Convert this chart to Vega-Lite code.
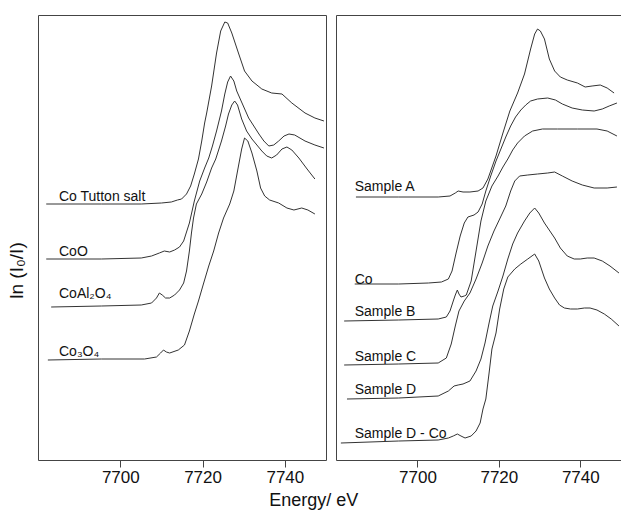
{
  "$schema": "https://vega.github.io/schema/vega-lite/v6.json",
  "padding": {"left": 6, "top": 14, "right": 0, "bottom": 5},
  "background": "white",
  "title": {"text": "Energy/ eV", "orient": "bottom", "anchor": "middle", "fontSize": 18, "font": "Liberation Sans", "fontWeight": "normal", "color": "#111", "offset": 6},
  "config": {
    "font": "Liberation Sans",
    "axis": {"grid": false, "labelFont": "Liberation Sans", "labelFontSize": 17, "labelColor": "#111", "tickColor": "#444", "domainColor": "#444", "titleFont": "Liberation Sans", "titleColor": "#111", "titleFontWeight": "normal"}
  },
  "datasets": {
    "left": [
      {"s":"T","e":7682.0,"v":256},{"s":"T","e":7695.4,"v":256},{"s":"T","e":7705.1,"v":256},{"s":"T","e":7710.0,"v":257},{"s":"T","e":7712.4,"v":258},{"s":"T","e":7713.9,"v":260},{"s":"T","e":7714.9,"v":261},{"s":"T","e":7716.1,"v":266},{"s":"T","e":7717.1,"v":274},{"s":"T","e":7718.0,"v":286},{"s":"T","e":7719.0,"v":301},{"s":"T","e":7719.8,"v":319},{"s":"T","e":7720.5,"v":337},{"s":"T","e":7721.0,"v":347},{"s":"T","e":7722.2,"v":374},{"s":"T","e":7723.4,"v":407},{"s":"T","e":7724.4,"v":429},{"s":"T","e":7725.4,"v":438},{"s":"T","e":7726.1,"v":437},{"s":"T","e":7727.1,"v":427},{"s":"T","e":7728.8,"v":406},{"s":"T","e":7730.2,"v":389},{"s":"T","e":7732.0,"v":379},{"s":"T","e":7734.4,"v":371},{"s":"T","e":7736.8,"v":367},{"s":"T","e":7739.3,"v":366},{"s":"T","e":7741.7,"v":357},{"s":"T","e":7744.9,"v":347},{"s":"T","e":7747.3,"v":342},{"s":"T","e":7749.5,"v":339},
      {"s":"CoO","e":7682.0,"v":201},{"s":"CoO","e":7695.4,"v":201},{"s":"CoO","e":7705.1,"v":202},{"s":"CoO","e":7707.6,"v":204},{"s":"CoO","e":7709.5,"v":207},{"s":"CoO","e":7710.7,"v":209},{"s":"CoO","e":7712.0,"v":208},{"s":"CoO","e":7713.2,"v":210},{"s":"CoO","e":7714.4,"v":213},{"s":"CoO","e":7715.4,"v":219},{"s":"CoO","e":7716.1,"v":228},{"s":"CoO","e":7716.8,"v":237},{"s":"CoO","e":7718.0,"v":259},{"s":"CoO","e":7719.3,"v":279},{"s":"CoO","e":7720.5,"v":292},{"s":"CoO","e":7721.5,"v":302},{"s":"CoO","e":7722.4,"v":314},{"s":"CoO","e":7723.4,"v":329},{"s":"CoO","e":7724.6,"v":349},{"s":"CoO","e":7725.4,"v":366},{"s":"CoO","e":7726.1,"v":378},{"s":"CoO","e":7726.8,"v":384},{"s":"CoO","e":7727.6,"v":379},{"s":"CoO","e":7728.3,"v":369},{"s":"CoO","e":7729.8,"v":355},{"s":"CoO","e":7731.2,"v":342},{"s":"CoO","e":7733.7,"v":326},{"s":"CoO","e":7734.9,"v":319},{"s":"CoO","e":7736.1,"v":314},{"s":"CoO","e":7737.3,"v":315},{"s":"CoO","e":7738.5,"v":319},{"s":"CoO","e":7739.8,"v":324},{"s":"CoO","e":7741.0,"v":326},{"s":"CoO","e":7742.4,"v":325},{"s":"CoO","e":7744.9,"v":319},{"s":"CoO","e":7747.3,"v":315},{"s":"CoO","e":7749.5,"v":312},
      {"s":"Al","e":7683.2,"v":153},{"s":"Al","e":7695.4,"v":154},{"s":"Al","e":7705.1,"v":155},{"s":"Al","e":7707.6,"v":157},{"s":"Al","e":7708.8,"v":162},{"s":"Al","e":7709.5,"v":167},{"s":"Al","e":7710.2,"v":165},{"s":"Al","e":7711.0,"v":162},{"s":"Al","e":7712.0,"v":162},{"s":"Al","e":7713.2,"v":165},{"s":"Al","e":7714.4,"v":170},{"s":"Al","e":7715.4,"v":177},{"s":"Al","e":7716.1,"v":189},{"s":"Al","e":7716.8,"v":209},{"s":"Al","e":7717.3,"v":227},{"s":"Al","e":7717.8,"v":242},{"s":"Al","e":7718.5,"v":256},{"s":"Al","e":7719.8,"v":266},{"s":"Al","e":7721.0,"v":278},{"s":"Al","e":7722.2,"v":292},{"s":"Al","e":7723.2,"v":301},{"s":"Al","e":7724.6,"v":319},{"s":"Al","e":7725.6,"v":334},{"s":"Al","e":7726.3,"v":346},{"s":"Al","e":7727.1,"v":355},{"s":"Al","e":7727.8,"v":359},{"s":"Al","e":7728.5,"v":355},{"s":"Al","e":7729.5,"v":341},{"s":"Al","e":7730.7,"v":329},{"s":"Al","e":7732.0,"v":321},{"s":"Al","e":7734.4,"v":309},{"s":"Al","e":7735.6,"v":304},{"s":"Al","e":7736.8,"v":302},{"s":"Al","e":7738.0,"v":305},{"s":"Al","e":7739.3,"v":311},{"s":"Al","e":7740.5,"v":313},{"s":"Al","e":7741.7,"v":310},{"s":"Al","e":7743.4,"v":302},{"s":"Al","e":7745.4,"v":291},{"s":"Al","e":7747.3,"v":281},
      {"s":"Co3","e":7682.4,"v":100},{"s":"Co3","e":7695.4,"v":101},{"s":"Co3","e":7705.9,"v":101},{"s":"Co3","e":7708.8,"v":103},{"s":"Co3","e":7709.8,"v":107},{"s":"Co3","e":7710.5,"v":110},{"s":"Co3","e":7711.2,"v":108},{"s":"Co3","e":7712.0,"v":107},{"s":"Co3","e":7714.1,"v":110},{"s":"Co3","e":7715.6,"v":115},{"s":"Co3","e":7716.8,"v":129},{"s":"Co3","e":7718.0,"v":146},{"s":"Co3","e":7719.0,"v":159},{"s":"Co3","e":7720.2,"v":176},{"s":"Co3","e":7721.5,"v":194},{"s":"Co3","e":7722.7,"v":209},{"s":"Co3","e":7723.9,"v":227},{"s":"Co3","e":7725.1,"v":242},{"s":"Co3","e":7726.6,"v":256},{"s":"Co3","e":7727.6,"v":269},{"s":"Co3","e":7728.5,"v":289},{"s":"Co3","e":7729.5,"v":311},{"s":"Co3","e":7730.2,"v":322},{"s":"Co3","e":7731.0,"v":319},{"s":"Co3","e":7732.0,"v":307},{"s":"Co3","e":7733.2,"v":289},{"s":"Co3","e":7734.1,"v":272},{"s":"Co3","e":7735.1,"v":264},{"s":"Co3","e":7736.3,"v":260},{"s":"Co3","e":7738.5,"v":257},{"s":"Co3","e":7740.5,"v":252},{"s":"Co3","e":7742.2,"v":250},{"s":"Co3","e":7744.1,"v":252},{"s":"Co3","e":7745.6,"v":250},{"s":"Co3","e":7747.3,"v":246}
    ],
    "right": [
      {"s":"A","e":7684.9,"v":263},{"s":"A","e":7695.4,"v":263},{"s":"A","e":7705.1,"v":263},{"s":"A","e":7708.0,"v":264},{"s":"A","e":7709.3,"v":267},{"s":"A","e":7710.0,"v":269},{"s":"A","e":7711.2,"v":268},{"s":"A","e":7712.9,"v":268},{"s":"A","e":7714.9,"v":269},{"s":"A","e":7716.1,"v":272},{"s":"A","e":7717.3,"v":281},{"s":"A","e":7719.3,"v":304},{"s":"A","e":7721.0,"v":327},{"s":"A","e":7722.7,"v":349},{"s":"A","e":7724.6,"v":367},{"s":"A","e":7726.3,"v":386},{"s":"A","e":7727.8,"v":411},{"s":"A","e":7728.8,"v":426},{"s":"A","e":7729.5,"v":431},{"s":"A","e":7730.2,"v":429},{"s":"A","e":7731.2,"v":421},{"s":"A","e":7732.4,"v":401},{"s":"A","e":7733.7,"v":389},{"s":"A","e":7735.1,"v":383},{"s":"A","e":7736.8,"v":380},{"s":"A","e":7739.3,"v":377},{"s":"A","e":7741.2,"v":373},{"s":"A","e":7742.9,"v":374},{"s":"A","e":7744.9,"v":375},{"s":"A","e":7746.6,"v":372},{"s":"A","e":7748.3,"v":367},
      {"s":"Co","e":7684.6,"v":176},{"s":"Co","e":7695.4,"v":176},{"s":"Co","e":7702.7,"v":177},{"s":"Co","e":7705.9,"v":178},{"s":"Co","e":7707.6,"v":181},{"s":"Co","e":7708.5,"v":189},{"s":"Co","e":7709.5,"v":207},{"s":"Co","e":7710.5,"v":224},{"s":"Co","e":7711.5,"v":237},{"s":"Co","e":7712.4,"v":243},{"s":"Co","e":7713.9,"v":245},{"s":"Co","e":7714.9,"v":248},{"s":"Co","e":7715.9,"v":256},{"s":"Co","e":7716.8,"v":269},{"s":"Co","e":7718.0,"v":284},{"s":"Co","e":7719.3,"v":299},{"s":"Co","e":7720.5,"v":311},{"s":"Co","e":7721.7,"v":323},{"s":"Co","e":7722.9,"v":334},{"s":"Co","e":7724.1,"v":343},{"s":"Co","e":7725.4,"v":350},{"s":"Co","e":7726.6,"v":355},{"s":"Co","e":7727.8,"v":359},{"s":"Co","e":7729.5,"v":361},{"s":"Co","e":7732.0,"v":362},{"s":"Co","e":7733.9,"v":360},{"s":"Co","e":7735.6,"v":356},{"s":"Co","e":7738.0,"v":352},{"s":"Co","e":7740.5,"v":350},{"s":"Co","e":7743.4,"v":349},{"s":"Co","e":7745.4,"v":351},{"s":"Co","e":7747.1,"v":354},{"s":"Co","e":7749.0,"v":357},
      {"s":"B","e":7682.0,"v":139},{"s":"B","e":7695.4,"v":140},{"s":"B","e":7705.1,"v":141},{"s":"B","e":7707.1,"v":143},{"s":"B","e":7708.0,"v":149},{"s":"B","e":7708.8,"v":159},{"s":"B","e":7709.3,"v":165},{"s":"B","e":7709.8,"v":170},{"s":"B","e":7710.2,"v":166},{"s":"B","e":7710.7,"v":163},{"s":"B","e":7711.5,"v":164},{"s":"B","e":7712.0,"v":165},{"s":"B","e":7713.2,"v":179},{"s":"B","e":7714.4,"v":209},{"s":"B","e":7715.6,"v":239},{"s":"B","e":7716.8,"v":259},{"s":"B","e":7718.3,"v":274},{"s":"B","e":7719.8,"v":284},{"s":"B","e":7721.0,"v":293},{"s":"B","e":7722.2,"v":301},{"s":"B","e":7723.4,"v":310},{"s":"B","e":7724.6,"v":317},{"s":"B","e":7726.3,"v":324},{"s":"B","e":7728.3,"v":329},{"s":"B","e":7730.7,"v":331},{"s":"B","e":7734.4,"v":331},{"s":"B","e":7739.3,"v":331},{"s":"B","e":7744.1,"v":331},{"s":"B","e":7746.6,"v":329},{"s":"B","e":7749.0,"v":324},
      {"s":"C","e":7682.0,"v":95},{"s":"C","e":7695.4,"v":96},{"s":"C","e":7705.1,"v":97},{"s":"C","e":7707.1,"v":102},{"s":"C","e":7708.3,"v":116},{"s":"C","e":7709.3,"v":134},{"s":"C","e":7710.2,"v":149},{"s":"C","e":7711.5,"v":159},{"s":"C","e":7712.9,"v":167},{"s":"C","e":7714.4,"v":181},{"s":"C","e":7715.9,"v":197},{"s":"C","e":7717.3,"v":214},{"s":"C","e":7718.8,"v":229},{"s":"C","e":7720.2,"v":241},{"s":"C","e":7721.7,"v":254},{"s":"C","e":7722.9,"v":269},{"s":"C","e":7723.9,"v":279},{"s":"C","e":7725.1,"v":284},{"s":"C","e":7727.1,"v":285},{"s":"C","e":7729.5,"v":286},{"s":"C","e":7732.0,"v":287},{"s":"C","e":7733.7,"v":288},{"s":"C","e":7735.6,"v":284},{"s":"C","e":7738.0,"v":279},{"s":"C","e":7740.5,"v":275},{"s":"C","e":7743.4,"v":272},{"s":"C","e":7746.6,"v":272},{"s":"C","e":7749.0,"v":273},
      {"s":"D","e":7682.7,"v":61},{"s":"D","e":7695.4,"v":62},{"s":"D","e":7705.1,"v":64},{"s":"D","e":7707.6,"v":69},{"s":"D","e":7709.0,"v":74},{"s":"D","e":7710.0,"v":75},{"s":"D","e":7711.2,"v":76},{"s":"D","e":7712.9,"v":79},{"s":"D","e":7714.4,"v":89},{"s":"D","e":7715.6,"v":101},{"s":"D","e":7716.6,"v":117},{"s":"D","e":7717.6,"v":137},{"s":"D","e":7718.5,"v":154},{"s":"D","e":7719.8,"v":169},{"s":"D","e":7721.0,"v":184},{"s":"D","e":7722.2,"v":201},{"s":"D","e":7723.4,"v":216},{"s":"D","e":7724.6,"v":227},{"s":"D","e":7726.3,"v":239},{"s":"D","e":7727.6,"v":247},{"s":"D","e":7728.8,"v":252},{"s":"D","e":7729.8,"v":247},{"s":"D","e":7731.2,"v":237},{"s":"D","e":7733.7,"v":222},{"s":"D","e":7735.1,"v":212},{"s":"D","e":7736.8,"v":204},{"s":"D","e":7738.5,"v":201},{"s":"D","e":7740.0,"v":201},{"s":"D","e":7741.7,"v":202},{"s":"D","e":7743.4,"v":202},{"s":"D","e":7745.4,"v":199},{"s":"D","e":7747.3,"v":194},{"s":"D","e":7749.5,"v":187},
      {"s":"DCo","e":7681.2,"v":17},{"s":"DCo","e":7695.4,"v":19},{"s":"DCo","e":7705.1,"v":20},{"s":"DCo","e":7707.6,"v":22},{"s":"DCo","e":7708.8,"v":24},{"s":"DCo","e":7709.8,"v":26},{"s":"DCo","e":7710.7,"v":24},{"s":"DCo","e":7711.7,"v":22},{"s":"DCo","e":7713.2,"v":24},{"s":"DCo","e":7714.4,"v":29},{"s":"DCo","e":7715.4,"v":37},{"s":"DCo","e":7716.1,"v":51},{"s":"DCo","e":7716.8,"v":61},{"s":"DCo","e":7717.6,"v":87},{"s":"DCo","e":7718.3,"v":111},{"s":"DCo","e":7719.3,"v":127},{"s":"DCo","e":7720.2,"v":151},{"s":"DCo","e":7721.2,"v":171},{"s":"DCo","e":7722.2,"v":183},{"s":"DCo","e":7723.9,"v":191},{"s":"DCo","e":7725.4,"v":196},{"s":"DCo","e":7727.1,"v":201},{"s":"DCo","e":7728.8,"v":206},{"s":"DCo","e":7729.8,"v":199},{"s":"DCo","e":7731.2,"v":182},{"s":"DCo","e":7732.4,"v":171},{"s":"DCo","e":7733.7,"v":162},{"s":"DCo","e":7734.9,"v":155},{"s":"DCo","e":7736.1,"v":152},{"s":"DCo","e":7737.6,"v":151},{"s":"DCo","e":7739.3,"v":151},{"s":"DCo","e":7741.0,"v":152},{"s":"DCo","e":7742.4,"v":152},{"s":"DCo","e":7744.1,"v":150},{"s":"DCo","e":7745.9,"v":146},{"s":"DCo","e":7747.6,"v":141},{"s":"DCo","e":7749.5,"v":134}
    ],
    "leftLabels": [
      {"t":"Co Tutton salt","e":7685.1,"v":259},
      {"t":"CoO","e":7685.1,"v":204},
      {"t":"CoAl₂O₄","e":7685.1,"v":162},
      {"t":"Co₃O₄","e":7685.1,"v":104}
    ],
    "rightLabels": [
      {"t":"Sample A","e":7684.6,"v":269},
      {"t":"Co","e":7684.6,"v":176},
      {"t":"Sample B","e":7684.6,"v":144},
      {"t":"Sample C","e":7684.6,"v":99},
      {"t":"Sample D","e":7684.6,"v":66},
      {"t":"Sample D - Co","e":7684.6,"v":22}
    ]
  },
  "spacing": 9,
  "hconcat": [
    {
      "width": 288,
      "height": 445,
      "view": {"stroke": "#444", "strokeWidth": 1},
      "layer": [
        {
          "data": {"name": "left"},
          "mark": {"type": "line", "color": "#333", "strokeWidth": 1, "clip": true},
          "encoding": {
            "x": {"field": "e", "type": "quantitative", "scale": {"domain": [7680, 7750], "nice": false, "zero": false}, "axis": {"values": [7700, 7720, 7740], "format": "d", "domain": false, "tickSize": 7, "labelPadding": 2, "title": null}},
            "y": {"field": "v", "type": "quantitative", "scale": {"domain": [0, 445], "nice": false, "zero": false}, "axis": {"domain": false, "ticks": false, "labels": false, "title": "ln (I₀/I)", "titleFontSize": 19, "titleBaseline": "middle", "titleX": -22, "titleY": 255}},
            "detail": {"field": "s"}
          }
        },
        {
          "data": {"name": "leftLabels"},
          "mark": {"type": "text", "align": "left", "baseline": "alphabetic", "fontSize": 14, "font": "Liberation Sans", "color": "#111"},
          "encoding": {
            "x": {"field": "e", "type": "quantitative"},
            "y": {"field": "v", "type": "quantitative"},
            "text": {"field": "t"}
          }
        }
      ]
    },
    {
      "width": 285,
      "height": 445,
      "view": {"stroke": null},
      "resolve": {"axis": {"x": "independent"}},
      "layer": [
        {
          "data": {"name": "right"},
          "mark": {"type": "line", "color": "#333", "strokeWidth": 1, "clip": true},
          "encoding": {
            "x": {"field": "e", "type": "quantitative", "scale": {"domain": [7680, 7750], "nice": false, "zero": false}, "axis": {"values": [7700, 7720, 7740], "format": "d", "domain": true, "tickSize": 7, "labelPadding": 2, "title": null}},
            "y": {"field": "v", "type": "quantitative", "scale": {"domain": [0, 445], "nice": false, "zero": false}, "axis": {"domain": true, "ticks": false, "labels": false, "title": null}},
            "detail": {"field": "s"}
          }
        },
        {
          "data": {"name": "rightLabels"},
          "mark": {"type": "text", "align": "left", "baseline": "alphabetic", "fontSize": 14, "font": "Liberation Sans", "color": "#111"},
          "encoding": {
            "x": {"field": "e", "type": "quantitative", "axis": {"orient": "top", "domain": true, "ticks": false, "labels": false, "title": null}},
            "y": {"field": "v", "type": "quantitative", "axis": {"domain": true, "ticks": false, "labels": false, "title": null}},
            "text": {"field": "t"}
          }
        }
      ]
    }
  ]
}
